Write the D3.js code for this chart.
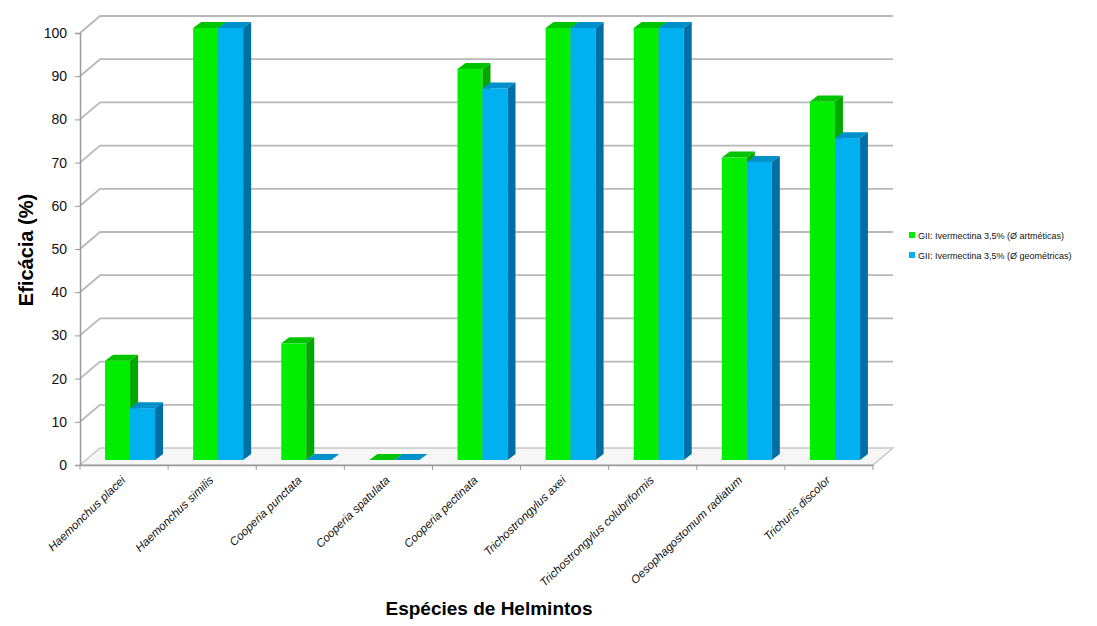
<!DOCTYPE html>
<html>
<head>
<meta charset="utf-8">
<script src="https://cdn.jsdelivr.net/npm/d3@7"></script>
<style>
  body { margin: 0; background: #fff; }
  text { font-family: "Liberation Sans", Arial, sans-serif; }
</style>
</head>
<body>
<svg width="1097" height="626"></svg>
<script>
// data
const especies = ["Haemonchus placei", "Haemonchus similis", "Cooperia punctata", "Cooperia spatulata",
  "Cooperia pectinata", "Trichostrongylus axei", "Trichostrongylus colubriformis",
  "Oesophagostomum radiatum", "Trichuris discolor"]
const aritmeticas = [23, 100, 27, 0, 90.5, 100, 100, 70, 83]
const geometricas = [12, 100, 0, 0, 86, 100, 100, 69, 74.5]
const seriesNames = ["GII: Ivermectina 3,5% (Ø artméticas)", "GII: Ivermectina 3,5% (Ø geométricas)"]
const yTicks = d3.range(0, 101, 10)

const colors = [
  { front: "#00ee00", top: "#00c400", side: "#00a800" },
  { front: "#00b0f0", top: "#0090cc", side: "#0070a4" }
]

// 3d wall depth and bar depth
const wallDx = 20, wallDy = -17
const barOx = 6, barOy = -5
const sideDx = 8, sideDy = -6

var svg = d3.select("svg")

var x = d3.scaleBand().domain(especies).range([80, 873])
var y = d3.scaleLinear().domain([0, 100]).range([465, 33])
var xs = d3.scaleBand().domain([0, 1]).range([-25, 25])

// floor
var x0 = x.range()[0], x1 = x.range()[1]
svg.append("path")
  .attr("d", `M${x0},${y(0)} L${x1},${y(0)} L${x1 + wallDx},${y(0) + wallDy} L${x0 + wallDx},${y(0) + wallDy} Z`)
  .attr("fill", "#f6f6f6")
  .attr("stroke", "#c8c8c8")
  .attr("stroke-width", 1.5)

// gridlines on left + back wall
var grid = svg.append("g")
yTicks.forEach((v) => {
  if (v === 0) return
  grid.append("path")
    .attr("d", `M${x0},${y(v)} L${x0 + wallDx},${y(v) + wallDy} L${x1 + wallDx},${y(v) + wallDy}`)
    .attr("fill", "none")
    .attr("stroke", "#b8b8b8")
    .attr("stroke-width", 1.8)
})

// y axis
var yAxis = d3.axisLeft(y).tickValues(yTicks).tickSize(5).tickPadding(8)
var ya = svg.append("g").attr("transform", `translate(${x0},0)`).call(yAxis)
ya.select(".domain").attr("stroke", "#9a9a9a").attr("stroke-width", 1.5)
ya.selectAll(".tick line").attr("stroke", "#9a9a9a")
ya.selectAll("text").attr("font-size", 14).attr("fill", "#111")
  .style("font-family", '"Liberation Sans", Arial, sans-serif')

// x axis
var xAxis = d3.axisBottom(x).tickSize(0).tickFormat("")
var xa = svg.append("g").attr("transform", `translate(0,${y(0)})`).call(xAxis)
xa.select(".domain").attr("stroke", "#9a9a9a").attr("stroke-width", 1.5)
xa.selectAll(".tick").remove()
var xTickPos = especies.map((d) => x(d)).concat([x1])
xa.selectAll("line.sep").data(xTickPos).enter().append("line")
  .attr("x1", (d) => d).attr("x2", (d) => d)
  .attr("y1", 0).attr("y2", 5)
  .attr("stroke", "#9a9a9a")

// bars
var bars = []
especies.forEach((e, i) => {
  [aritmeticas[i], geometricas[i]].forEach((v, s) => {
    bars.push({ e: e, s: s, v: v })
  })
})

var bg = svg.append("g")
bars.forEach((b) => {
  var bx = x(b.e) + x.bandwidth() / 2 + xs(b.s) + barOx
  var bw = xs.bandwidth()
  var yt = y(b.v) + barOy
  var yb = y(0) + barOy
  var c = colors[b.s]
  bg.append("rect")
    .attr("x", bx).attr("y", yt)
    .attr("width", bw).attr("height", Math.max(0, yb - yt))
    .attr("fill", c.front)
  bg.append("path")
    .attr("d", `M${bx},${yt} L${bx + bw},${yt} L${bx + bw + sideDx},${yt + sideDy} L${bx + sideDx},${yt + sideDy} Z`)
    .attr("fill", c.top)
  bg.append("path")
    .attr("d", `M${bx + bw},${yt} L${bx + bw + sideDx},${yt + sideDy} L${bx + bw + sideDx},${yb + sideDy} L${bx + bw},${yb} Z`)
    .attr("fill", c.side)
})

// category labels
svg.append("g").selectAll("text").data(especies).enter().append("text")
  .attr("transform", (d) => `translate(${x(d) + x.bandwidth() / 2 + 2},${y(0) + 16}) rotate(-44)`)
  .attr("text-anchor", "end")
  .attr("font-size", 11.6)
  .attr("font-style", "italic")
  .attr("fill", "#111")
  .text((d) => d)

// axis titles
svg.append("text")
  .attr("transform", "translate(33,250) rotate(-90)")
  .attr("text-anchor", "middle")
  .attr("font-size", 20)
  .attr("font-weight", "bold")
  .text("Eficácia (%)")

svg.append("text")
  .attr("x", 489).attr("y", 615)
  .attr("text-anchor", "middle")
  .attr("font-size", 19)
  .attr("font-weight", "bold")
  .text("Espécies de Helmintos")

// legend
var lg = svg.append("g").attr("transform", "translate(909,232)")
seriesNames.forEach((n, i) => {
  lg.append("rect").attr("x", 0).attr("y", i * 20).attr("width", 6).attr("height", 6)
    .attr("fill", colors[i].front)
  lg.append("text").attr("x", 9).attr("y", i * 20 + 6.5)
    .attr("font-size", 9).attr("fill", "#111")
    .text(n)
})
</script>
</body>
</html>
